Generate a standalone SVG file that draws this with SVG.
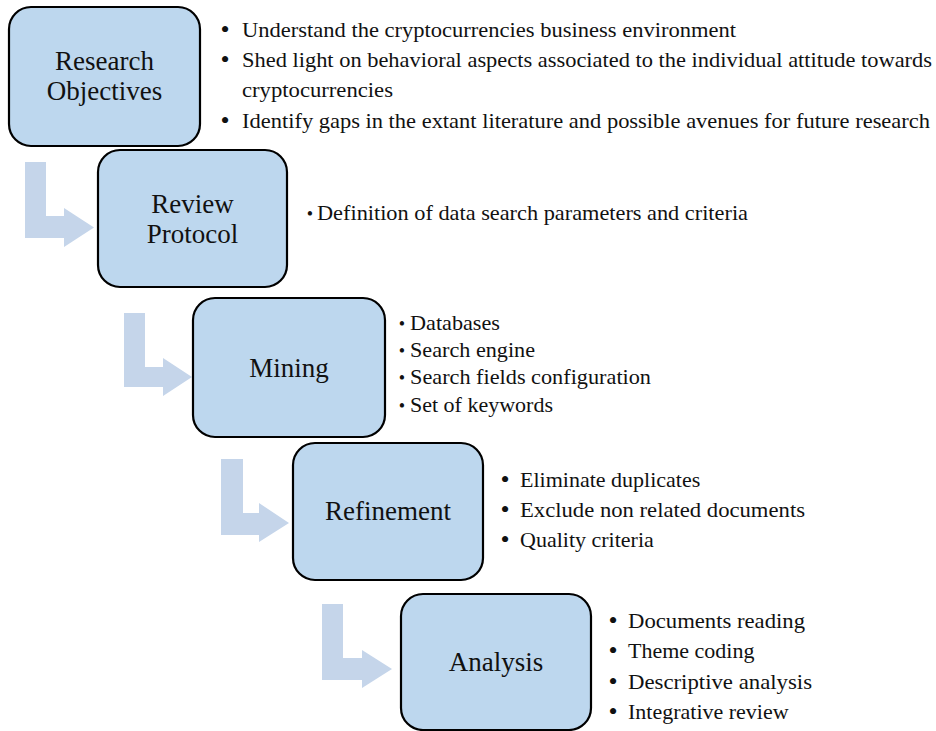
<svg xmlns="http://www.w3.org/2000/svg" width="936" height="731" viewBox="0 0 936 731">
<style>
.box{fill:#bdd7ee;stroke:#000;stroke-width:2.2}
.arr{fill:#c5d5ea;stroke:none}
text{font-family:'Liberation Serif','DejaVu Serif',serif;fill:#111}
.title{font-size:27px;text-anchor:middle}
.li{font-size:22px}
.lis{font-size:21px}
.bb{font-size:26px;text-anchor:middle}
.bs{font-size:18px;text-anchor:middle}
</style>
<rect width="936" height="731" fill="#fff"/>
<g id="connectors">
<polygon class="arr" points="25,162 46,162 46,216 64,216 64,208 94,227.5 64,247 64,238 25,238"/>
<polygon class="arr" points="124,313 145,313 145,367 163,367 163,358 192,377 163,396 163,387 124,387"/>
<polygon class="arr" points="221,459 243,459 243,513 259,513 259,503 289,523 259,542 259,535 221,535"/>
<polygon class="arr" points="322,604 343,604 343,658 362,658 362,650 392,669 362,688 362,680 322,680"/>
</g>
<g id="node-research-objectives">
<rect class="box" x="9" y="7" width="191" height="139" rx="22"/>
<text class="title" x="104.5" y="70" font-family="Liberation Serif, serif">Research</text>
<text class="title" x="104.5" y="100" font-family="Liberation Serif, serif">Objectives</text>
</g>
<g id="list-research-objectives">
<text class="bb" x="225" y="38">•</text>
<text class="li" x="242" y="37" textLength="494" lengthAdjust="spacingAndGlyphs">Understand the cryptocurrencies business environment</text>
<text class="bb" x="225" y="68">•</text>
<text class="li" x="242" y="67" textLength="690" lengthAdjust="spacingAndGlyphs">Shed light on behavioral aspects associated to the individual attitude towards</text>
<text class="li" x="242" y="97" textLength="151" lengthAdjust="spacingAndGlyphs">cryptocurrencies</text>
<text class="bb" x="225" y="129">•</text>
<text class="li" x="242" y="128" textLength="688" lengthAdjust="spacingAndGlyphs">Identify gaps in the extant literature and possible avenues for future research</text>
</g>
<g id="node-review-protocol">
<rect class="box" x="98" y="150" width="189" height="137" rx="22"/>
<text class="title" x="192.5" y="213">Review</text>
<text class="title" x="192.5" y="243">Protocol</text>
</g>
<g id="list-review-protocol">
<text class="bs" x="310" y="220">•</text>
<text class="lis" x="317" y="220" textLength="431" lengthAdjust="spacingAndGlyphs">Definition of data search parameters and criteria</text>
</g>
<g id="node-mining">
<rect class="box" x="193" y="298" width="192" height="139" rx="22"/>
<text class="title" x="289" y="377">Mining</text>
</g>
<g id="list-mining">
<text class="bs" x="402" y="330">•</text>
<text class="lis" x="410" y="330" textLength="90" lengthAdjust="spacingAndGlyphs">Databases</text>
<text class="bs" x="402" y="357">•</text>
<text class="lis" x="410" y="357" textLength="125" lengthAdjust="spacingAndGlyphs">Search engine</text>
<text class="bs" x="402" y="384">•</text>
<text class="lis" x="410" y="384" textLength="241" lengthAdjust="spacingAndGlyphs">Search fields configuration</text>
<text class="bs" x="402" y="412">•</text>
<text class="lis" x="410" y="412" textLength="143" lengthAdjust="spacingAndGlyphs">Set of keywords</text>
</g>
<g id="node-refinement">
<rect class="box" x="293" y="443" width="190" height="137" rx="22"/>
<text class="title" x="388" y="520">Refinement</text>
</g>
<g id="list-refinement">
<text class="bb" x="505" y="488">•</text>
<text class="li" x="520" y="487">Eliminate duplicates</text>
<text class="bb" x="505" y="518">•</text>
<text class="li" x="520" y="517" textLength="285" lengthAdjust="spacingAndGlyphs">Exclude non related documents</text>
<text class="bb" x="505" y="548">•</text>
<text class="li" x="520" y="547">Quality criteria</text>
</g>
<g id="node-analysis">
<rect class="box" x="401" y="594" width="190" height="136" rx="22"/>
<text class="title" x="496" y="671">Analysis</text>
</g>
<g id="list-analysis">
<text class="bb" x="613" y="629">•</text>
<text class="li" x="628" y="628" textLength="177" lengthAdjust="spacingAndGlyphs">Documents reading</text>
<text class="bb" x="613" y="659">•</text>
<text class="li" x="628" y="658">Theme coding</text>
<text class="bb" x="613" y="690">•</text>
<text class="li" x="628" y="689" textLength="184" lengthAdjust="spacingAndGlyphs">Descriptive analysis</text>
<text class="bb" x="613" y="720">•</text>
<text class="li" x="628" y="719">Integrative review</text>
</g>
</svg>
